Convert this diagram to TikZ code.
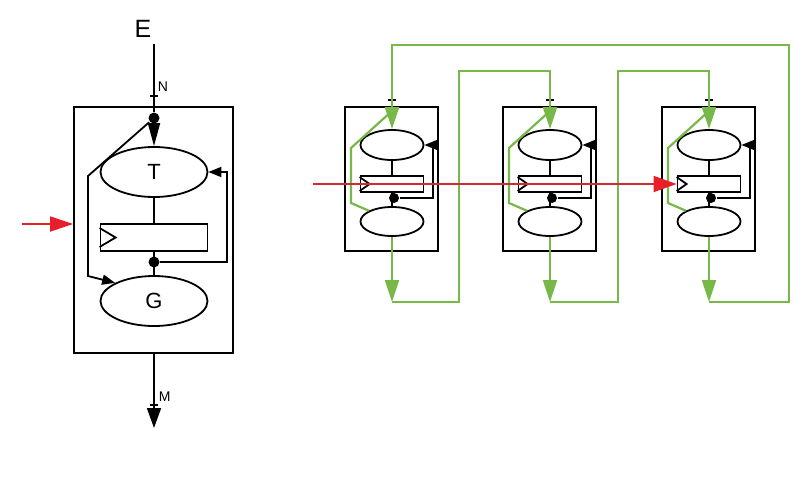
\documentclass[tikz,border=0pt]{standalone}
\usepackage{fontspec}
\setmainfont{Liberation Sans}
\usetikzlibrary{shapes.geometric,arrows.meta}
\definecolor{grn}{RGB}{120,184,72}
\definecolor{redline}{RGB}{205,45,50}
\definecolor{redhead}{RGB}{232,30,40}
\begin{document}
\begin{tikzpicture}[x=1pt,y=-1pt, line width=1.8pt,
  box/.style={draw, rectangle, inner sep=0pt},
  ell/.style={draw, ellipse, inner sep=0pt, fill=white},
  dotst/.style={circle, fill, inner sep=0pt, minimum size=11pt},
  gline/.style={draw=grn, line width=2.2pt},
  bighead/.style={-{Triangle[length=22pt,width=14pt]}},
  smallhead/.style={-{Triangle[length=13pt,width=10pt]}},
  lbl/.style={font=\fontsize{14}{16}\selectfont, anchor=west, inner sep=0pt}
]
\useasboundingbox (0,0) rectangle (806,482);

% ---------- left module ----------
\node[box, minimum width=159pt, minimum height=246pt] (LB) at (153.5,230) {};
\node[ell, minimum width=107pt, minimum height=50pt, font=\fontsize{22}{24}\selectfont] (T) at (154,172) {T};
\node[box, minimum width=107pt, minimum height=27pt] (R) at (154,237.5) {};
\node[ell, minimum width=107pt, minimum height=50pt, font=\fontsize{22}{24}\selectfont] (G) at (154,301) {G};
\node[dotst] (d1) at (154,118) {};
\node[dotst] (d2) at (154,262) {};
\node[font=\fontsize{25}{30}\selectfont, inner sep=0pt] (E) at (143,29) {E};
\node[lbl] (N) at (157,87) {N};
\node[lbl] (M) at (158,397) {M};
\coordinate (Etop) at (154,44);
\coordinate (Mend) at (154,428);
\coordinate (redL) at (22,224);
\coordinate (fbL) at (227,262);
\coordinate (lk1) at (88,176);
\coordinate (lk2) at (88,276);

\draw (Etop) -- (d1);
\draw (150,96) -- (158,96);
\draw[-{Triangle[length=23pt,width=12pt]}] (d1) -- (T.north);
\draw (T.south) -- (R.north);
\draw (R.south) -- (G.north);
\draw (R.west) ++(0,-9.5) -- ++(16,9.5) -- ++(-16,9.5);
\draw[smallhead] (d2) -- (fbL) -- (fbL |- T.east) -- (T.east);
\draw[smallhead] (d1) -- (lk1) -- (lk2) -- (G.155);
\draw[-{Triangle[length=20pt,width=14pt]}] (LB.south -| Mend) -- (Mend);
\draw (150,405) -- (158,405);
\draw[redhead, -{Triangle[length=23pt,width=15pt]}] (redL) -- (redL -| LB.west);

% ---------- right modules ----------
\foreach \i/\cx in {1/392,2/550,3/709}{
  \node[box, minimum width=93pt, minimum height=144pt] (B\i) at (\cx-0.5,179) {};
  \node[ell, minimum width=63pt, minimum height=30pt] (U\i) at (\cx,145) {};
  \node[box, minimum width=63pt, minimum height=16pt] (S\i) at (\cx,184) {};
  \node[ell, minimum width=63pt, minimum height=29pt] (D\i) at (\cx,221.5) {};
  \node[dotst, minimum size=10pt] (p\i) at (\cx+2,198) {};
  \coordinate (f\i) at (\cx+41,198);
  \coordinate (in\i) at (\cx,111);
  \coordinate (ga\i) at (\cx-41,148);
  \coordinate (gb\i) at (\cx-41,203);
  \coordinate (o\i) at (\cx,302);
  \draw (U\i.south) -- (S\i.north);
  \draw (S\i.south) -- (D\i.north);
  \draw (S\i.west) ++(0,-7) -- ++(10,7) -- ++(-10,7);
  \draw[smallhead] (p\i) -- (f\i) -- (f\i |- U\i.east) -- (U\i.east);
  \draw[line width=2.2pt] (\cx-4,100) -- (\cx+4,100);
  \draw[gline] (in\i) -- (ga\i) -- (gb\i) -- (D\i.155);
  \draw[gline, bighead] (D\i.south) -- (o\i);
}
\coordinate (ta) at (789,45);
\coordinate (tb) at (459,71);
\coordinate (tc) at (618,71);
\draw[gline, bighead] (o3) -| (ta) -| (U1.north);
\draw[gline, bighead] (o1) -| (tb) -| (U2.north);
\draw[gline, bighead] (o2) -| (tc) -| (U3.north);

% red signal line
\coordinate (rs) at (313,184);
\draw[redline, line width=1.8pt, -{Triangle[length=23pt,width=16pt,color=redhead]}] (rs) -- (S3.west);
\end{tikzpicture}
\end{document}
